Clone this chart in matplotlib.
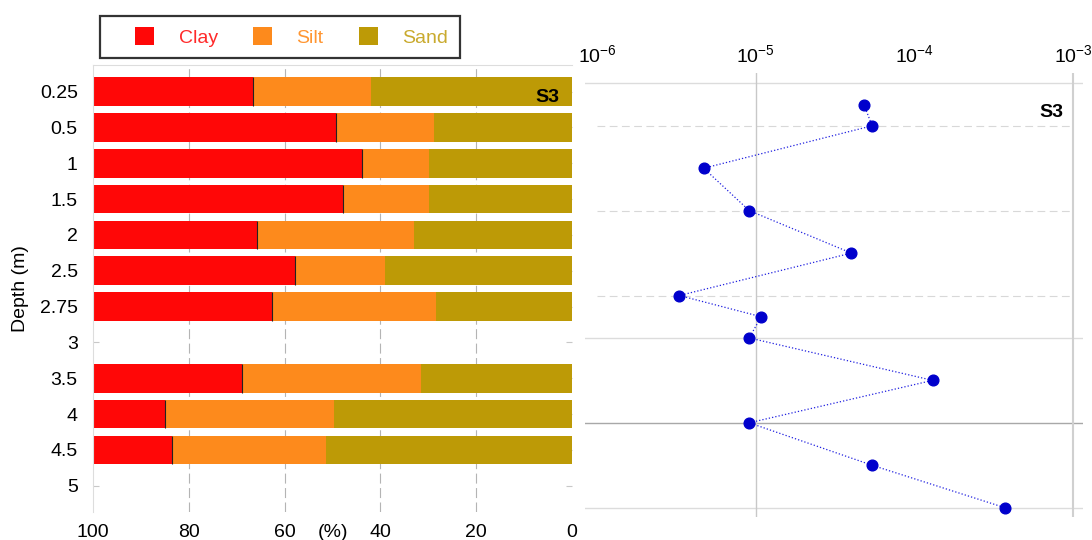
import numpy as np
import matplotlib.pyplot as plt
from matplotlib.patches import Rectangle
from matplotlib.ticker import NullLocator

plt.rcParams['font.family'] = ['Liberation Sans', 'DejaVu Sans']
plt.rcParams['mathtext.default'] = 'regular'
plt.rcParams['axes.unicode_minus'] = False

# grain size fractions (%) per sampled depth, S3 borehole
depth_labels = ['0.25', '0.5', '1', '1.5', '2', '2.5', '2.75', '3', '3.5', '4', '4.5', '5']
clay = [33.4, 50.7, 56.1, 52.1, 34.2, 42.2, 37.3, np.nan, 31.2, 15.0, 16.4, np.nan]
silt = [24.6, 20.4, 14.1, 18.1, 32.9, 18.8, 34.3, np.nan, 37.3, 35.4, 32.2, np.nan]
sand = [42.0, 28.9, 29.8, 29.8, 32.9, 39.0, 28.4, np.nan, 31.5, 49.6, 51.4, np.nan]

# hydraulic conductivity profile
k_depth = [0.25, 0.5, 1.0, 1.5, 2.0, 2.5, 2.75, 3.0, 3.5, 4.0, 4.5, 5.0]
k_value = [4.8e-5, 5.4e-5, 4.7e-6, 9.1e-6, 4.0e-5, 3.3e-6, 1.08e-5, 9.1e-6, 1.3e-4, 9.1e-6, 5.4e-5, 3.7e-4]

# layer boundaries drawn on the profile
dashed_depths = [0.5, 1.5, 2.5]
solid_depths = [0.0, 3.0, 5.0]
strong_depths = [4.0]

c_clay = '#ff0707'
c_silt = '#fd8a1c'
c_sand = '#bd9a06'

fig = plt.figure(figsize=(10.92, 5.4), dpi=100)
ax1 = fig.add_axes([0.0852, 0.0519, 0.4386, 0.8277])
ax2 = fig.add_axes([0.5357, 0.0426, 0.4561, 0.8222])

# ---- left: stacked texture bars, 100 % on the left ----
rows = np.arange(len(depth_labels))
ok = ~np.isnan(clay)
r = rows[ok]
cl = np.array(clay)[ok]
si = np.array(silt)[ok]
sa = np.array(sand)[ok]
clay_left = 100 - cl
silt_left = clay_left - si
sand_left = silt_left - sa

b1 = ax1.barh(r, cl, left=clay_left, height=0.8, color=c_clay, label='Clay', zorder=2)
b2 = ax1.barh(r, si, left=silt_left, height=0.8, color=c_silt, label='Silt', zorder=2)
b3 = ax1.barh(r, sa, left=sand_left, height=0.8, color=c_sand, label='Sand', zorder=2)
ax1.vlines(clay_left, r - 0.4, r + 0.4, color='#222222', lw=0.8, zorder=3)

ax1.set_xlim(100, 0)
ax1.set_ylim(11.73, -0.74)
ax1.set_yticks(rows, depth_labels)
ax1.set_xticks([100, 80, 60, 40, 20, 0])
for x in [80, 60, 40, 20]:
    ax1.axvline(x, color='#b4b4b4', lw=0.8, dashes=(9, 4), zorder=0)
ax1.tick_params(axis='y', direction='in', length=4, color='#c8c8c8',
                left=True, right=True, labelsize=14, pad=11)
ax1.tick_params(axis='x', length=0, labelsize=14, pad=9)
for side in ['right', 'bottom']:
    ax1.spines[side].set_visible(False)
for side in ['top', 'left']:
    ax1.spines[side].set_color('#dddddd')
    ax1.spines[side].set_linewidth(0.8)
ax1.set_ylabel('Depth (m)', fontsize=14, labelpad=8)
ax1.set_xlabel('(%)', fontsize=14)
ax1.xaxis.set_label_coords(0.5, -0.028)
ax1.text(0.973, 0.928, 'S3', transform=ax1.transAxes, ha='right', va='center',
         fontsize=14, fontweight='bold', zorder=4)

# ---- right: conductivity vs depth, log scale ----
ax2.set_xscale('log')
ax2.set_xlim(10 ** -6.0756, 10 ** -2.939)
ax2.set_ylim(5.11, -0.122)
for d in dashed_depths:
    ax2.hlines(d, 1e-6, 1e-3, color='#d8d8d8', lw=0.8, linestyle=(0, (7, 4)), zorder=0)
for d in solid_depths:
    ax2.axhline(d, color='#dcdcdc', lw=1.0, zorder=0)
for d in strong_depths:
    ax2.axhline(d, color='#a8a8a8', lw=1.0, zorder=0)
ax2.axvline(1e-5, color='#c8c8c8', lw=1.0, zorder=0)
ax2.axvline(1e-3, color='#d0d0d0', lw=1.5, zorder=0)

ax2.plot(k_value, k_depth, color='#2020e0', lw=0.9, ls=':', zorder=2)
ax2.plot(k_value, k_depth, 'o', color='#0000cc', ms=7.7, zorder=3)

ax2.xaxis.tick_top()
ax2.set_xticks([1e-6, 1e-5, 1e-4, 1e-3])
ax2.xaxis.set_minor_locator(NullLocator())
ax2.tick_params(axis='x', length=0, labelsize=14, pad=5)
ax2.set_yticks([])
for side in ax2.spines:
    ax2.spines[side].set_visible(False)
ax2.text(0.96, 0.912, 'S3', transform=ax2.transAxes, ha='right', va='center',
         fontsize=14, fontweight='bold')

# ---- legend ----
leg = fig.legend(handles=[b1, b2, b3], labels=['Clay', 'Silt', 'Sand'], loc='center',
                 bbox_to_anchor=(291.5 / 1092, 1 - 37 / 540), ncol=3, frameon=False,
                 fontsize=14, handlelength=1.0, handleheight=1.0, handletextpad=1.25,
                 columnspacing=1.8, borderpad=0)
for t, c in zip(leg.get_texts(), ['#ff2a2a', '#ff9632', '#c9aa2e']):
    t.set_color(c)
fig.add_artist(Rectangle((100 / 1092, 1 - 57.5 / 540), 360 / 1092, 41.5 / 540,
                         transform=fig.transFigure, fill=False, ec='#333333', lw=1.6))

fig.savefig('out.png', dpi=100)
